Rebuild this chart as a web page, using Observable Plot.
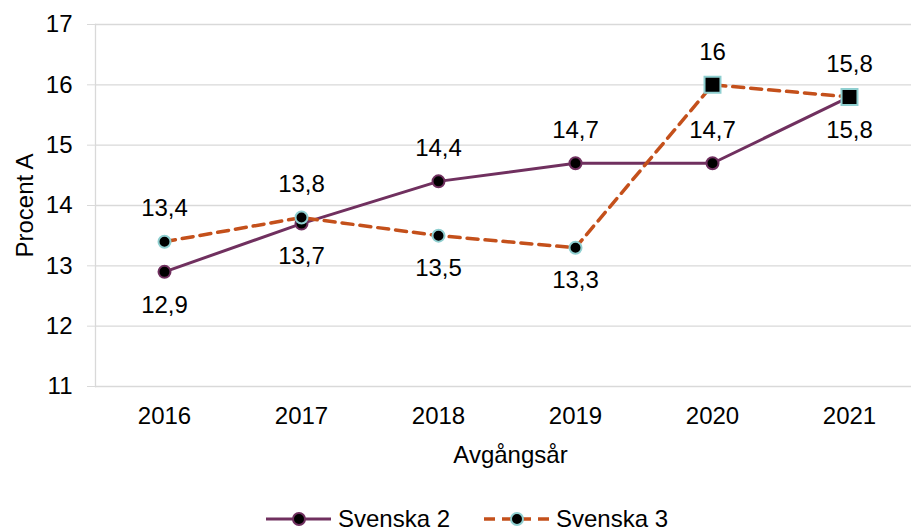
<!DOCTYPE html>
<html><head><meta charset="utf-8">
<script src="https://cdn.jsdelivr.net/npm/d3@7"></script>
<script src="https://cdn.jsdelivr.net/npm/@observablehq/plot@0.6"></script>
<style>
html,body{margin:0;background:#fff;font-family:"Liberation Sans",Arial,sans-serif;overflow:hidden;}
#chart svg{display:block;}
#legend{box-sizing:border-box;height:36px;padding-top:10px;display:flex;align-items:center;justify-content:center;padding-left:23px;font-size:24px;line-height:24px;color:#000;}
#legend .item{display:flex;align-items:center;}
#legend svg{margin-right:7px;display:block;}
</style>
</head><body><div id="chart"></div><div id="legend"></div>
<script>
const years = ["2016","2017","2018","2019","2020","2021"];
const svenska2 = [12.9, 13.7, 14.4, 14.7, 14.7, 15.8];
const svenska3 = [13.4, 13.8, 13.5, 13.3, 16, 15.8];
const svenska2Side = ["below","below","above","above","above","below"];
const svenska3Side = ["above","above","below","below","above","above"];
const svenska3Shape = ["circle","circle","circle","circle","square","square"];
const yTicks = [11, 12, 13, 14, 15, 16, 17];
const seriesNames = ["Svenska 2", "Svenska 3"];

const purple = "#70305F", orange = "#C4501B", cyan = "#8FCFD0", grid = "#D9D9D9";
const fmt = v => String(v).replace(".", ",");

const s2 = years.map((y, i) => ({year: y, value: svenska2[i], side: svenska2Side[i]}));
const s3 = years.map((y, i) => ({year: y, value: svenska3[i], side: svenska3Side[i], shape: svenska3Shape[i]}));
const font = "Liberation Sans, Arial, sans-serif";

const labels = (data, side, dy) => Plot.text(data.filter(d => d.side === side),
  {x: "year", y: "value", text: d => fmt(d.value), dy, fontSize: 24, lineAnchor: "middle"});

const chart = Plot.plot({
  width: 911, height: 496,
  marginLeft: 95, marginRight: -6, marginTop: 24, marginBottom: 110,
  style: {fontFamily: font, fontSize: "24px", color: "#000", background: "#fff"},
  x: {type: "point", domain: years, padding: 0.5},
  y: {domain: [11, 17]},
  marks: [
    Plot.ruleY(yTicks, {stroke: grid, strokeWidth: 1.3}),
    Plot.frame({anchor: "left", stroke: grid, strokeWidth: 1.3}),
    Plot.axisY({ticks: yTicks, tickSize: 8, tickPadding: 15, stroke: grid, fontSize: 24, label: null, tickFormat: d => d}),
    Plot.axisX({tickSize: 0, tickPadding: 20, fontSize: 24, label: null}),
    Plot.text(["Avgångsår"], {frameAnchor: "bottom", textAnchor: "middle", dy: 69, dx: 4, fontSize: 24, lineAnchor: "middle"}),
    Plot.text(["Procent A"], {frameAnchor: "left", textAnchor: "middle", dx: -70, rotate: -90, fontSize: 24, lineAnchor: "middle"}),
    Plot.line(s2, {x: "year", y: "value", stroke: purple, strokeWidth: 3}),
    Plot.dot(s2, {x: "year", y: "value", r: 6, fill: "#000", stroke: purple, strokeWidth: 2}),
    Plot.line(s3, {x: "year", y: "value", stroke: orange, strokeWidth: 3.5, strokeDasharray: "11,7"}),
    Plot.dot(s3.filter(d => d.shape === "circle"), {x: "year", y: "value", r: 6, fill: "#000", stroke: cyan, strokeWidth: 2}),
    Plot.dot(s3.filter(d => d.shape === "square"), {x: "year", y: "value", symbol: "square", r: 9, fill: "#000", stroke: cyan, strokeWidth: 2}),
    labels(s2, "above", -33),
    labels(s2, "below", 33),
    labels(s3, "above", -33),
    labels(s3, "below", 33)
  ]
});
document.getElementById("chart").appendChild(chart);

// legend
const legend = d3.select("#legend");
const specs = [
  {name: seriesNames[0], stroke: purple, dash: null, w: 3, mfill: "#000", mstroke: purple},
  {name: seriesNames[1], stroke: orange, dash: "11,7", w: 3.5, mfill: "#000", mstroke: cyan}
];
specs.forEach((s, i) => {
  const item = legend.append("div").attr("class", "item").style("margin-right", i === 0 ? "34px" : "0");
  const svg = item.append("svg").attr("width", 65).attr("height", 20);
  svg.append("line").attr("x1", 0).attr("x2", 65).attr("y1", 10).attr("y2", 10)
    .attr("stroke", s.stroke).attr("stroke-width", s.w).attr("stroke-dasharray", s.dash);
  svg.append("circle").attr("cx", 33).attr("cy", 10).attr("r", 6)
    .attr("fill", s.mfill).attr("stroke", s.mstroke).attr("stroke-width", 2);
  item.append("span").text(s.name);
});
</script>
</body></html>
